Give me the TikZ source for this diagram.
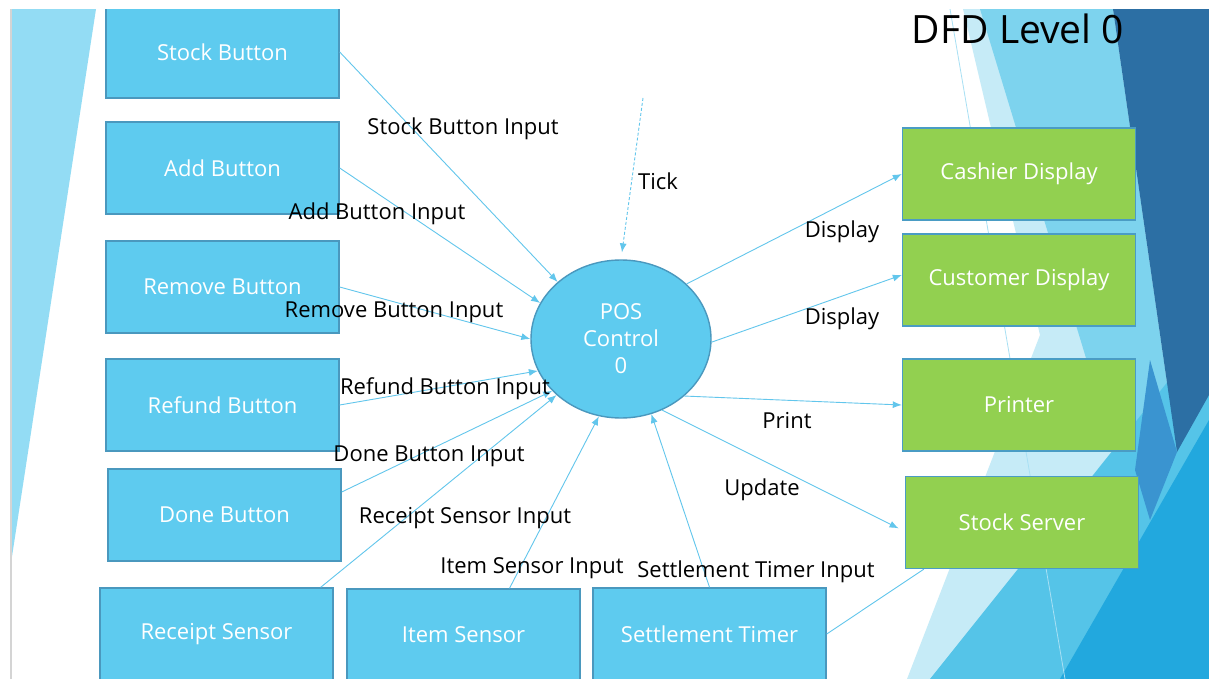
\documentclass[tikz,border=0pt]{standalone}
\usepackage{fontspec}
\setmainfont{Open Sans}
\usetikzlibrary{arrows.meta,shapes.geometric}

\definecolor{boxblue}{HTML}{5ECBEF}
\definecolor{boxedge}{HTML}{4A98BE}
\definecolor{boxgreen}{HTML}{92D050}
\definecolor{greenedge}{HTML}{4A9CC4}
\definecolor{flowblue}{HTML}{62C6EC}
\definecolor{sidebar}{HTML}{93DCF4}
\definecolor{railgray}{HTML}{D4D4D4}
\definecolor{facetpale}{HTML}{C6EBF7}
\definecolor{facetlight}{HTML}{7DD3EE}
\definecolor{facetmid}{HTML}{55C4E8}
\definecolor{facetdark}{HTML}{2C6FA4}
\definecolor{facetsteel}{HTML}{3A94D0}
\definecolor{facetbright}{HTML}{22A8DE}
\definecolor{facetline}{HTML}{A8E0F4}

\tikzset{
  lbl/.style={font=\fontsize{22}{26}\selectfont},
  entity/.style={rectangle, minimum width=233pt, minimum height=92pt,
    inner sep=0pt, line width=1.4pt, text=white, lbl},
  inbox/.style={entity, fill=boxblue, draw=boxedge},
  outbox/.style={entity, fill=boxgreen, draw=greenedge},
  process/.style={ellipse, minimum width=180pt, minimum height=158pt,
    inner sep=0pt, fill=boxblue, draw=boxedge, line width=1.4pt,
    text=white, align=center, font=\fontsize{22}{27}\selectfont},
  flow/.style={draw=flowblue, line width=0.9pt,
    -{Latex[length=9pt,width=7pt]}},
  plainflow/.style={draw=flowblue, line width=0.9pt},
  tickflow/.style={flow, dash pattern=on 3pt off 2pt},
  flowlabel/.style={lbl, text=black, inner sep=0pt, yshift=-2pt}
}

\begin{document}
\begin{tikzpicture}[x=1pt,y=-1pt]
\useasboundingbox (0,0) rectangle (1209,679);
\fill[white] (0,0) rectangle (1209,679);

% left facet band
\fill[sidebar] (11,9) -- (96,9) -- (11,563) -- cycle;
\draw[railgray, line width=1.5pt] (11,9) -- (11,679);

% right facet cluster
\fill[facetpale] (963,9) -- (1209,9) -- (1209,679) -- (907,679) -- (1040,335) -- cycle;
\fill[facetlight] (980,9) -- (1113,9) -- (1177,452) -- (1120,470) -- cycle;
\fill[facetmid] (930,679) -- (1209,330) -- (1209,679) -- cycle;
\fill[facetdark] (1113,9) -- (1209,9) -- (1209,395) -- (1177,452) -- cycle;
\fill[facetsteel] (1150,360) -- (1177,452) -- (1150,520) -- (1135,470) -- cycle;
\fill[facetbright] (1060,679) -- (1209,420) -- (1209,679) -- cycle;
\draw[facetline, line width=0.8pt] (950,9) -- (1065,679);

% title
\node[font=\fontsize{39}{44}\selectfont, inner sep=0pt] (title) at (1018,29) {DFD Level 0};

% external entities (inputs)
\node[inbox] (stock)   at (222.5,52)  {Stock Button};
\node[inbox] (add)     at (222.5,168) {Add Button};
\node[inbox] (remove)  at (222.5,287) {Remove Button};
\node[inbox] (refund)  at (222.5,405) {Refund Button};
\node[inbox] (done)    at (224.5,515) {Done Button};
\node[inbox] (receipt) at (216.5,634) {Receipt Sensor};
\node[inbox] (item)    at (463.5,635) {Item Sensor};
\node[inbox] (settle)  at (709.5,634) {Settlement Timer};

% external entities (outputs)
\node[outbox] (cashier)  at (1019,174)   {Cashier Display};
\node[outbox] (customer) at (1019,280)   {Customer Display};
\node[outbox] (printer)  at (1019,405)   {Printer};
\node[outbox] (server)   at (1022,522.5) {Stock Server};

% central process
\node[process] (pos) at (621,339) {POS\\Control\\0};

% clock source
\coordinate (clock) at (643,98);

% input flows
\draw[flow] (stock.east) -- (pos.138);
\draw[flow] (add.east) -- (pos.156);
\draw[flow] (remove.east) -- (pos.180);
\draw[flow] (refund.east) -- (pos.201);
\draw[flow] ([yshift=23pt]done.east) -- (pos.217);
\draw[flow] ([xshift=-13pt]receipt.north east) -- (pos.221);
\draw[flow] ([xshift=46pt]item.north) -- (pos.254);
\draw[flow] (settle.north) -- (pos.292);
\draw[tickflow, shorten >=7pt] (clock) -- (pos.north);

% output flows
\draw[flow] (pos.40) -- (cashier.west);
\draw[flow] (pos.358) -- ([yshift=5pt]customer.west);
\draw[flow] (pos.318) -- (printer.west);
\draw[flow, shorten >=7pt] (pos.300) -- ([yshift=-9pt]server.west);
\draw[plainflow] (settle.east) -- ([xshift=19pt]server.south west);

% flow labels
\node[flowlabel] (lstock)   at (463,127) {Stock Button Input};
\node[flowlabel] (ladd)     at (377,212) {Add Button Input};
\node[flowlabel] (lremove)  at (394,310) {Remove Button Input};
\node[flowlabel] (lrefund)  at (445,387) {Refund Button Input};
\node[flowlabel] (ldone)    at (429,454) {Done Button Input};
\node[flowlabel] (lreceipt) at (465,516) {Receipt Sensor Input};
\node[flowlabel] (litem)    at (532,566) {Item Sensor Input};
\node[flowlabel] (lsettle)  at (756,570) {Settlement Timer Input};
\node[flowlabel] (ltick)    at (658,179) {Tick};
\node[flowlabel] (ldisp1)   at (842,230) {Display};
\node[flowlabel] (ldisp2)   at (842,317) {Display};
\node[flowlabel] (lprint)   at (787,419) {Print};
\node[flowlabel] (lupdate)  at (762,488) {Update};

% slide top margin
\fill[white] (0,0) rectangle (1209,9);
\end{tikzpicture}
\end{document}
